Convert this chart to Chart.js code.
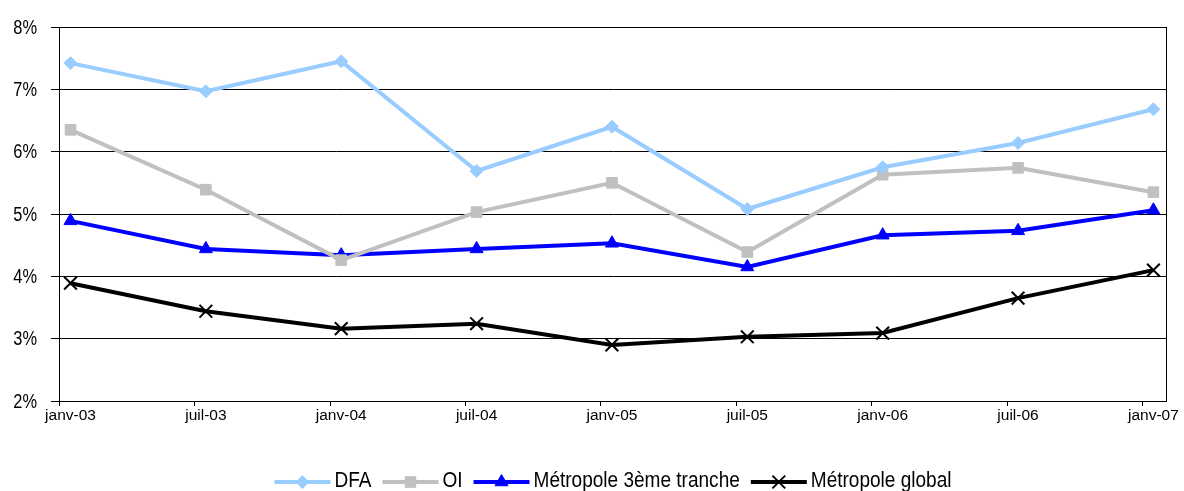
<!DOCTYPE html>
<html>
<head>
<meta charset="utf-8">
<script src="https://cdn.jsdelivr.net/npm/chart.js@4.4.1/dist/chart.umd.min.js"></script>
<style>
  html, body { margin: 0; padding: 0; background: #ffffff; }
  #wrap { width: 1184px; height: 491px; position: relative; }
</style>
</head>
<body>
<div id="wrap"><canvas id="c" width="1184" height="491"></canvas></div>
<script>
// Period labels (half-year steps)
const periods = ['janv-03', 'juil-03', 'janv-04', 'juil-04', 'janv-05', 'juil-05', 'janv-06', 'juil-06', 'janv-07'];

// Rates in percent
const dfa        = [7.42, 6.97, 7.45, 5.69, 6.40, 5.08, 5.75, 6.14, 6.68];
const oi         = [6.35, 5.39, 4.26, 5.03, 5.50, 4.39, 5.63, 5.74, 5.35];
const metro3     = [4.89, 4.44, 4.34, 4.44, 4.53, 4.15, 4.66, 4.73, 5.06];
const metroGlob  = [3.89, 3.44, 3.16, 3.24, 2.90, 3.03, 3.09, 3.65, 4.10];

// Y axis tick values (percent)
const yTicks = [2, 3, 4, 5, 6, 7, 8];

const REGULAR = '"Liberation Sans", Arial, sans-serif';
const CONDENSE_Y = 0.82;     // horizontal squeeze for the y labels
const CONDENSE_LEG = 0.865;  // horizontal squeeze for the legend texts

const X_MIN = -0.085, X_MAX = 8.1;

function toPoints(arr) { return arr.map((v, i) => ({ x: i, y: v })); }

function narrowText(ctx, text, x, y, align, squeeze) {
  ctx.save();
  ctx.translate(x, y);
  ctx.scale(squeeze, 1);
  ctx.textAlign = align;
  ctx.textBaseline = 'middle';
  ctx.fillText(text, 0, 0);
  ctx.restore();
}

// Box around the plot, tick marks, y labels and a legend with line + marker samples
const decorPlugin = {
  id: 'decor',
  afterDraw(chart) {
    const ctx = chart.ctx;
    const a = chart.chartArea;
    const xs = chart.scales.x;
    const ys = chart.scales.y;
    ctx.save();
    ctx.strokeStyle = '#000000';
    ctx.lineWidth = 1;
    ctx.strokeRect(Math.round(a.left) + 0.5, Math.round(a.top) + 0.5,
                   Math.round(a.right - a.left) - 1, Math.round(a.bottom - a.top));
    // tick marks below the x axis
    ctx.beginPath();
    for (let i = 0; i < periods.length; i++) {
      const px = Math.round(xs.getPixelForValue(X_MIN + i)) + 0.5;
      ctx.moveTo(px, a.bottom);
      ctx.lineTo(px, a.bottom + 5);
    }
    ctx.stroke();

    // y labels
    ctx.fillStyle = '#000000';
    ctx.font = '20px ' + REGULAR;
    yTicks.forEach(v => {
      narrowText(ctx, v + '%', 37, ys.getPixelForValue(v) + 1, 'right', CONDENSE_Y);
    });

    // legend
    const items = chart.data.datasets;
    const lineLen = 56, gapText = 4, gapItem = 11;
    ctx.font = '22px ' + REGULAR;
    const widths = items.map(ds => ctx.measureText(ds.label).width * CONDENSE_LEG);
    let total = 0;
    widths.forEach((w, i) => { total += lineLen + gapText + w + (i < widths.length - 1 ? gapItem : 0); });
    let x = (a.left + a.right) / 2 - total / 2;
    const yLine = 482, yText = 481;
    items.forEach((ds, i) => {
      ctx.strokeStyle = ds.borderColor;
      ctx.lineWidth = ds.borderWidth;
      ctx.beginPath();
      ctx.moveTo(x, yLine);
      ctx.lineTo(x + lineLen, yLine);
      ctx.stroke();
      ctx.fillStyle = ds.backgroundColor;
      ctx.lineWidth = ds.pointBorderWidth;
      Chart.helpers.drawPoint(ctx, {
        pointStyle: ds.pointStyle,
        radius: ds.pointRadius,
        borderWidth: ds.pointBorderWidth,
        rotation: 0
      }, x + lineLen / 2, yLine);
      x += lineLen + gapText;
      ctx.fillStyle = '#000000';
      narrowText(ctx, ds.label, x, yText, 'left', CONDENSE_LEG);
      x += widths[i] + gapItem;
    });
    ctx.restore();
  }
};

const datasets = [
  { label: 'DFA', data: toPoints(dfa), borderColor: '#99CCFF', backgroundColor: '#99CCFF',
    pointStyle: 'rectRot', pointRadius: 6.5, pointBorderWidth: 1, borderWidth: 4 },
  { label: 'OI', data: toPoints(oi), borderColor: '#C0C0C0', backgroundColor: '#C0C0C0',
    pointStyle: 'rect', pointRadius: 7.5, pointBorderWidth: 1, borderWidth: 4 },
  { label: 'Métropole 3ème tranche', data: toPoints(metro3), borderColor: '#0000FF', backgroundColor: '#0000FF',
    pointStyle: 'triangle', pointRadius: 7.5, pointBorderWidth: 1, borderWidth: 4 },
  { label: 'Métropole global', data: toPoints(metroGlob), borderColor: '#000000', backgroundColor: '#000000',
    pointStyle: 'crossRot', pointRadius: 9, pointBorderWidth: 2, borderWidth: 4 }
].map(d => Object.assign(d, {
  pointBackgroundColor: d.backgroundColor,
  pointBorderColor: d.borderColor,
  tension: 0,
  fill: false
}));

new Chart(document.getElementById('c'), {
  type: 'line',
  data: { datasets },
  options: {
    responsive: false,
    animation: false,
    layout: { padding: { top: 27, right: 15, bottom: 0, left: 0 } },
    plugins: { legend: { display: false }, tooltip: { enabled: false } },
    scales: {
      x: {
        type: 'linear',
        min: X_MIN,
        max: X_MAX,
        afterBuildTicks(scale) { scale.ticks = periods.map((p, i) => ({ value: i })); },
        afterFit(scale) { scale.height = 90; },
        grid: { display: false, drawTicks: false },
        border: { display: true, color: '#000000', width: 1 },
        ticks: {
          autoSkip: false,
          maxRotation: 0,
          padding: 5,
          color: '#000000',
          font: { family: REGULAR, size: 15.5 },
          callback: (v) => periods[Math.round(v)]
        }
      },
      y: {
        min: yTicks[0],
        max: yTicks[yTicks.length - 1],
        afterBuildTicks(scale) { scale.ticks = yTicks.map(v => ({ value: v })); },
        afterFit(scale) { scale.width = 59; },
        grid: { color: '#000000', lineWidth: 1, tickLength: 8, drawTicks: true },
        border: { display: true, color: '#000000', width: 1 },
        ticks: {
          color: 'rgba(0,0,0,0)',
          padding: 14,
          font: { family: REGULAR, size: 20 },
          callback: (v) => v + '%'
        }
      }
    }
  },
  plugins: [decorPlugin]
});
</script>
</body>
</html>
